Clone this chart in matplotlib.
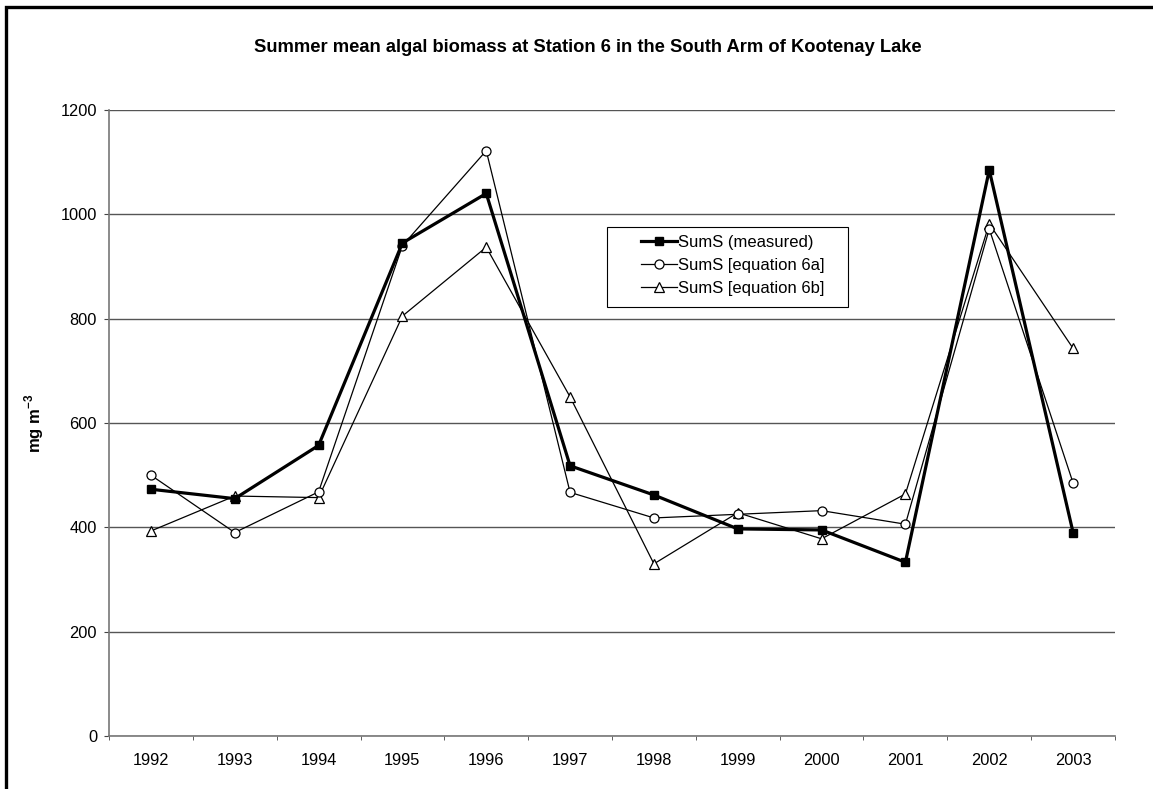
import numpy as np
import matplotlib
matplotlib.use("Agg")
import matplotlib.pyplot as plt
from matplotlib.patches import Rectangle

plt.rcParams["font.family"] = ["Liberation Sans", "DejaVu Sans"]
plt.rcParams["mathtext.fontset"] = "custom"
plt.rcParams["mathtext.rm"] = "Liberation Sans"
plt.rcParams["mathtext.bf"] = "Liberation Sans:bold"

# -------------------------------------------------
# Data
# -------------------------------------------------

years = ["1992", "1993", "1994", "1995", "1996", "1997",
         "1998", "1999", "2000", "2001", "2002", "2003"]

measured = [473, 455, 557, 945, 1040, 518, 462, 397, 395, 333, 1085, 390]
eq_6a = [500, 390, 468, 940, 1122, 467, 418, 425, 432, 406, 972, 485]
eq_6b = [393, 460, 457, 805, 937, 650, 330, 428, 378, 464, 982, 743]

y_ticks = [0, 200, 400, 600, 800, 1000, 1200]

# -------------------------------------------------
# Figure
# -------------------------------------------------

fig = plt.figure(figsize=(11.53, 7.89), dpi=100)
ax = fig.add_axes([109 / 1153, 1 - 736 / 789, 1006 / 1153, 626 / 789])

x = np.arange(len(years))

ax.plot(x, measured, color="black", linewidth=2.3, marker="s",
        markersize=6, markerfacecolor="black", label="SumS (measured)",
        zorder=5)
ax.plot(x, eq_6a, color="black", linewidth=0.9, marker="o",
        markersize=6.5, markerfacecolor="white", markeredgewidth=0.9,
        label="SumS [equation 6a]", zorder=4)
ax.plot(x, eq_6b, color="black", linewidth=0.9, marker="^",
        markersize=6.5, markerfacecolor="white", markeredgewidth=0.9,
        label="SumS [equation 6b]", zorder=3)

ax.set_xlim(-0.5, len(years) - 0.5)
ax.set_ylim(0, 1200)
ax.set_yticks(y_ticks)
ax.set_xticks(x)
ax.set_xticklabels(years)
ax.set_xticks(np.arange(len(years) + 1) - 0.5, minor=True)

ax.tick_params(axis="x", which="major", length=0, pad=12, labelsize=11.8)
ax.tick_params(axis="x", which="minor", length=3, direction="out",
               color="#444444")
ax.tick_params(axis="y", length=3.6, direction="out", color="#444444",
               labelsize=11.8, pad=5)

ax.grid(True, axis="y", color="#555555", linewidth=1.0)
ax.set_axisbelow(True)

for side in ["top", "right"]:
    ax.spines[side].set_visible(False)
for side in ["left", "bottom"]:
    ax.spines[side].set_color("#777777")
    ax.spines[side].set_linewidth(1.2)

ax.set_ylabel("mg m$^{\\mathbf{-3}}$", fontsize=12, fontweight="bold")
ax.yaxis.set_label_coords(-0.063, 0.5)

fig.text(588 / 1153, 1 - 48 / 789,
         "Summer mean algal biomass at Station 6 in the South Arm of Kootenay Lake",
         ha="center", va="center", fontsize=13.2, fontweight="bold")

# legend entries without frame, frame drawn separately to match the wide box
leg = ax.legend(loc="upper left", bbox_to_anchor=(0.529, 0.801),
                fontsize=12, frameon=False,
                handlelength=2.15, handletextpad=0.05, borderpad=0,
                labelspacing=0.48, borderaxespad=0)
ax.add_patch(Rectangle((0.495, 0.6853), 0.2396, 0.1278,
                       transform=ax.transAxes, facecolor="white",
                       edgecolor="black", linewidth=0.8, zorder=6))
leg.set_zorder(7)

# outer chart border (extends past right and bottom edges)
fig.patches.append(Rectangle((6 / 1153, -1), 2, 1 + (1 - 7 / 789),
                             transform=fig.transFigure, fill=False,
                             edgecolor="black", linewidth=2.4))

fig.savefig("out.png", dpi=100)
